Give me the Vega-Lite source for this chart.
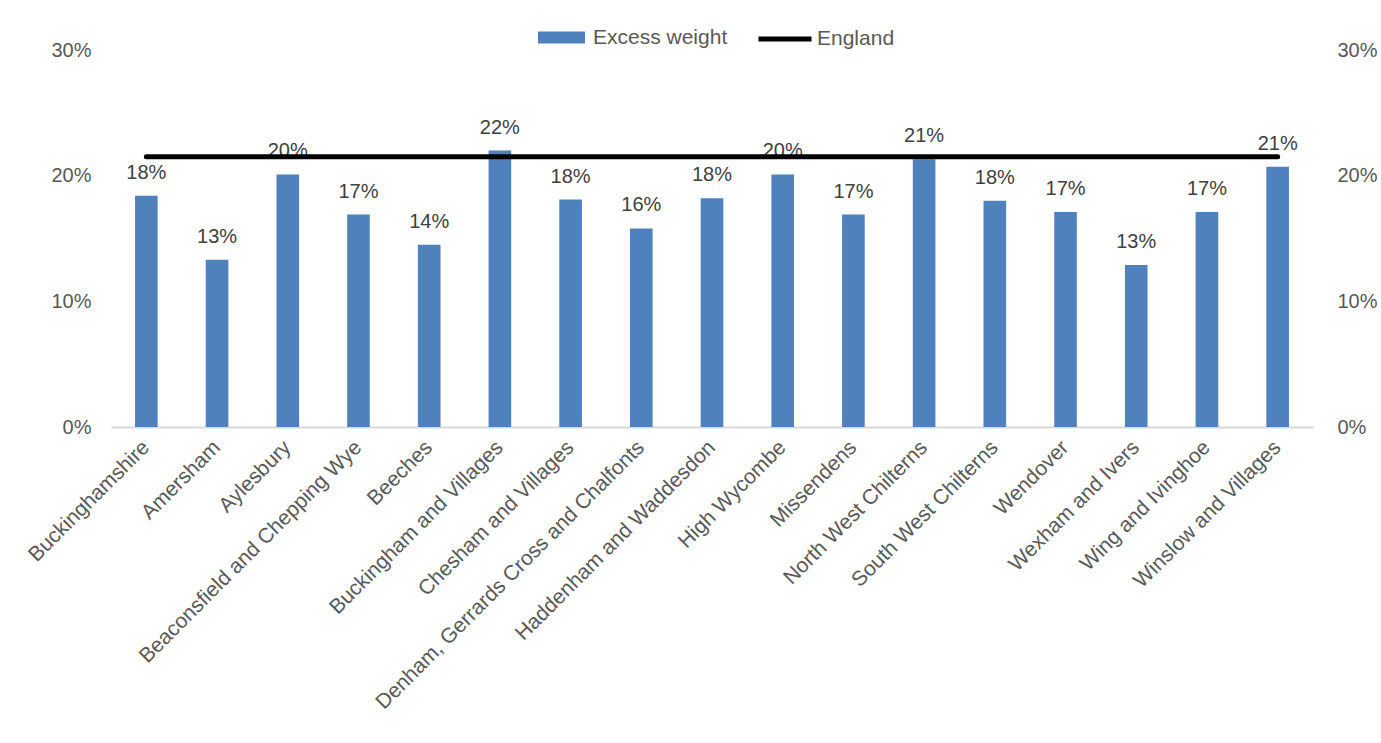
{
  "$schema": "https://vega.github.io/schema/vega-lite/v6.json",
  "width": 1202,
  "height": 377,
  "autosize": {"type": "none"},
  "padding": {"left": 111, "top": 50, "right": 68, "bottom": 316},
  "background": "white",
  "data": {
    "values": [
      {"area": "Buckinghamshire", "excess": 0.184, "england": 0.215},
      {"area": "Amersham", "excess": 0.133, "england": 0.215},
      {"area": "Aylesbury", "excess": 0.201, "england": 0.215},
      {"area": "Beaconsfield and Chepping Wye", "excess": 0.169, "england": 0.215},
      {"area": "Beeches", "excess": 0.145, "england": 0.215},
      {"area": "Buckingham and Villages", "excess": 0.220, "england": 0.215},
      {"area": "Chesham and Villages", "excess": 0.181, "england": 0.215},
      {"area": "Denham, Gerrards Cross and Chalfonts", "excess": 0.158, "england": 0.215},
      {"area": "Haddenham and Waddesdon", "excess": 0.182, "england": 0.215},
      {"area": "High Wycombe", "excess": 0.201, "england": 0.215},
      {"area": "Missendens", "excess": 0.169, "england": 0.215},
      {"area": "North West Chilterns", "excess": 0.213, "england": 0.215},
      {"area": "South West Chilterns", "excess": 0.180, "england": 0.215},
      {"area": "Wendover", "excess": 0.171, "england": 0.215},
      {"area": "Wexham and Ivers", "excess": 0.129, "england": 0.215},
      {"area": "Wing and Ivinghoe", "excess": 0.171, "england": 0.215},
      {"area": "Winslow and Villages", "excess": 0.207, "england": 0.215}
    ]
  },
  "config": {
    "font": "Liberation Sans",
    "view": {"stroke": null},
    "axis": {"labelFont": "Liberation Sans", "labelColor": "#595959", "labelFontSize": 20, "grid": false, "ticks": false, "title": null}
  },
  "encoding": {
    "x": {
      "field": "area",
      "type": "nominal",
      "sort": null,
      "scale": {"paddingInner": 0.68, "paddingOuter": 0.34},
      "axis": {"labelAngle": -45, "labelAlign": "right", "labelBaseline": "middle", "labelPadding": 17, "labelFontSize": 21, "domainColor": "#d9d9d9", "domainWidth": 2, "labelLimit": 500}
    }
  },
  "layer": [
    {
      "mark": {"type": "bar", "color": "#4f81bd"},
      "encoding": {
        "y": {
          "field": "excess",
          "type": "quantitative",
          "scale": {"domain": [0, 0.3]},
          "axis": {"orient": "left", "format": ".0%", "values": [0, 0.1, 0.2, 0.3], "domain": false, "labelPadding": 20}
        },
        "fill": {
          "datum": "Excess weight",
          "type": "nominal",
          "scale": {"range": ["#4f81bd"]},
          "legend": {"orient": "none", "legendX": 427, "legendY": -36, "title": null, "symbolType": "M-1,-0.26H1V0.26H-1Z", "symbolSize": 2209, "symbolStrokeWidth": 0, "labelFontSize": 21, "labelColor": "#595959", "labelOffset": 8}
        }
      }
    },
    {
      "mark": {"type": "text", "baseline": "bottom", "dy": -13, "fontSize": 20, "color": "#404040"},
      "encoding": {
        "y": {"field": "excess", "type": "quantitative", "axis": null},
        "text": {"field": "excess", "type": "quantitative", "format": ".0%"}
      }
    },
    {
      "mark": {"type": "line", "strokeWidth": 5, "strokeCap": "round"},
      "encoding": {
        "y": {
          "field": "england",
          "type": "quantitative",
          "axis": {"orient": "right", "format": ".0%", "values": [0, 0.1, 0.2, 0.3], "domain": false, "labelPadding": 24}
        },
        "stroke": {
          "datum": "England",
          "type": "nominal",
          "scale": {"range": ["black"]},
          "legend": {"orient": "none", "legendX": 645, "legendY": -40, "title": null, "symbolType": "stroke", "symbolSize": 2809, "symbolStrokeWidth": 5, "labelFontSize": 21, "labelColor": "#595959", "labelOffset": 3}
        }
      }
    }
  ],
  "resolve": {"axis": {"y": "independent"}, "scale": {"y": "shared"}}
}
